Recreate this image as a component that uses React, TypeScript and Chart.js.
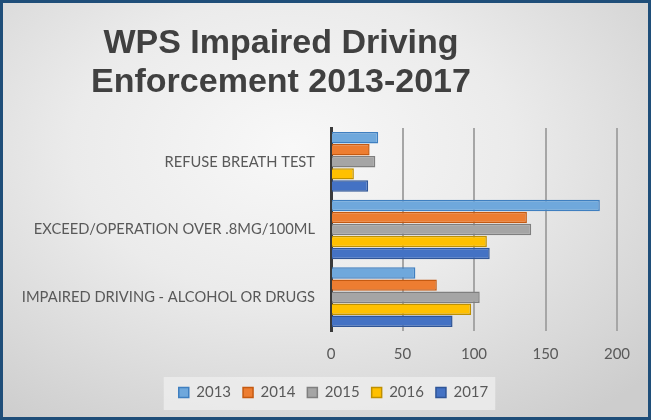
import React, { useEffect, useRef } from "react";
import { Chart, registerables } from "chart.js";

Chart.register(...registerables);

const categories = [
  "REFUSE BREATH TEST",
  "EXCEED/OPERATION OVER .8MG/100ML",
  "IMPAIRED DRIVING - ALCOHOL OR DRUGS",
];
const years = ["2013", "2014", "2015", "2016", "2017"];
const values2013 = [33, 188, 59];
const values2014 = [27, 137, 74];
const values2015 = [31, 140, 104];
const values2016 = [16, 109, 98];
const values2017 = [26, 111, 85];
const xTicks = [0, 50, 100, 150, 200];
const titleLines = ["WPS Impaired Driving", "Enforcement 2013-2017"];

const fills = ["#6fa8dc", "#ed7d31", "#a5a5a5", "#ffc000", "#4472c4"];
const borders = ["#3f7fc0", "#c55a11", "#7f7f7f", "#bf9000", "#2f5597"];

const titlePlugin = {
  id: "customTitle",
  afterDraw(chart: any) {
    const ctx = chart.ctx;
    ctx.save();
    ctx.font = "bold 34px 'Liberation Sans', Arial, sans-serif";
    ctx.fillStyle = "#404040";
    ctx.textAlign = "center";
    ctx.textBaseline = "alphabetic";
    ctx.fillText(titleLines[0], 281, 53);
    ctx.fillText(titleLines[1], 281, 92);
    ctx.restore();
  },
};

const legendShiftPlugin = {
  id: "legendShift",
  afterLayout(chart: any) {
    const lg = chart.legend;
    if (!lg) return;
    lg.left += 25;
    lg.right += 25;
  },
};

const legendBgPlugin = {
  id: "legendBg",
  beforeDraw(chart: any) {
    const lg = chart.legend;
    if (!lg || !lg.legendHitBoxes || !lg.legendHitBoxes.length) return;
    const boxes = lg.legendHitBoxes;
    let minX = Infinity, maxX = -Infinity, minY = Infinity, maxY = -Infinity;
    boxes.forEach((b: any) => {
      minX = Math.min(minX, b.left);
      maxX = Math.max(maxX, b.left + b.width);
      minY = Math.min(minY, b.top);
      maxY = Math.max(maxY, b.top + b.height);
    });
    const ctx = chart.ctx;
    ctx.save();
    ctx.fillStyle = "rgba(238,238,238,0.8)";
    ctx.fillRect(minX - 15, minY - 8, maxX - minX + 22, maxY - minY + 18);
    ctx.restore();
  },
};

export default function App() {
  const ref = useRef<HTMLCanvasElement | null>(null);

  useEffect(() => {
    if (!ref.current) return;
    const series = [values2013, values2014, values2015, values2016, values2017];
    const chart = new Chart(ref.current, {
      type: "bar",
      data: {
        labels: categories,
        datasets: years.map((y, i) => ({
          label: y,
          data: series[i],
          backgroundColor: fills[i],
          borderColor: borders[i],
          borderWidth: 1.5,
          categoryPercentage: 0.89,
          barPercentage: 0.95,
        })),
      },
      options: {
        indexAxis: "y",
        responsive: false,
        animation: false,
        layout: { padding: { top: 128, right: 34, bottom: 10, left: 0 } },
        plugins: {
          title: { display: false },
          tooltip: { enabled: false },
          legend: {
            position: "bottom",
            labels: {
              boxWidth: 10,
              boxHeight: 10,
              padding: 12,
              color: "#595959",
              font: { family: "Lato, 'Open Sans', sans-serif", size: 15 },
            },
          },
        },
        scales: {
          x: {
            min: 0,
            max: 200,
            afterBuildTicks(scale: any) {
              scale.ticks = xTicks.map((v) => ({ value: v }));
            },
            afterFit(scale: any) {
              scale.height = 42;
            },
            grid: {
              drawTicks: false,
              lineWidth: 2,
              color: (c: any) => (c.tick && c.tick.value === 0 ? "rgba(0,0,0,0)" : "#a6a6a6"),
            },
            border: { display: false },
            ticks: {
              padding: 14,
              color: "#595959",
              font: { family: "Lato, 'Open Sans', sans-serif", size: 15 },
            },
          },
          y: {
            afterFit(scale: any) {
              scale.width = 331;
            },
            grid: { display: false, drawTicks: false },
            border: { display: true, color: "#3a3a3a", width: 3 },
            ticks: {
              padding: 16,
              color: "#595959",
              font: { family: "Lato, 'Open Sans', sans-serif", size: 14.7 },
            },
          },
        },
      },
      plugins: [titlePlugin, legendShiftPlugin, legendBgPlugin],
    } as any);
    return () => chart.destroy();
  }, []);

  return (
    <div
      style={{
        position: "absolute",
        left: 0,
        top: 0,
        width: 651,
        height: 420,
        background:
          "radial-gradient(ellipse 75% 80% at 45% 35%, #f8f8f8 0%, #ebebeb 45%, #cdcdcd 100%)",
        boxShadow: "inset 0 0 0 3px #1f4e79",
      }}
    >
      <canvas ref={ref} width={651} height={420} style={{ display: "block", width: 651, height: 420 }} />
    </div>
  );
}
